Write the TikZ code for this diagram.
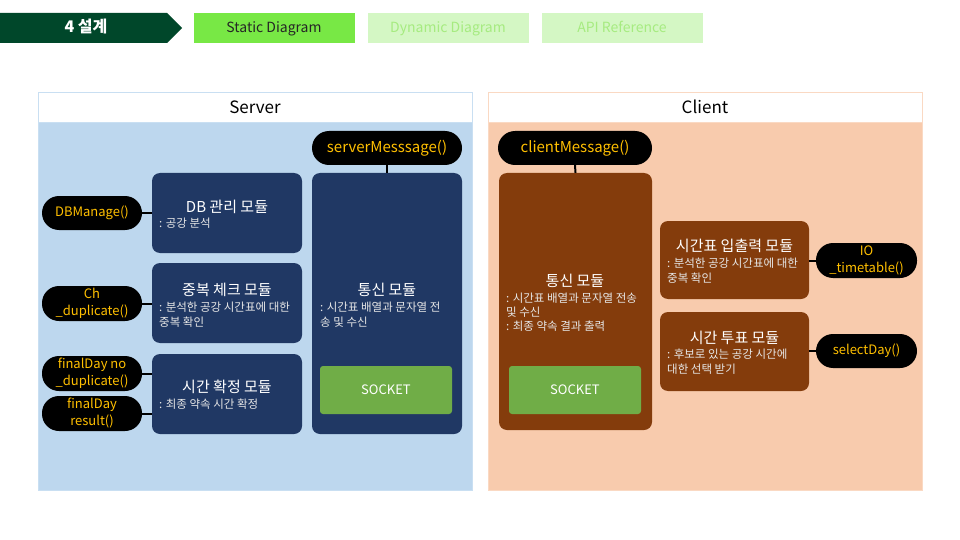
\documentclass[tikz,border=0pt]{standalone}
\usepackage{fontspec}
\setmainfont{Noto Sans CJK KR}
\definecolor{dkgreen}{HTML}{00472A}
\definecolor{brgreen}{HTML}{78E845}
\definecolor{ltgreen}{HTML}{D4F7C4}
\definecolor{ltgreentext}{HTML}{A6EB80}
\definecolor{sbodyc}{HTML}{BDD7EE}
\definecolor{sborderc}{HTML}{C9DFF2}
\definecolor{smodc}{HTML}{203864}
\definecolor{cbodyc}{HTML}{F8CBAD}
\definecolor{cborderc}{HTML}{FAD9C3}
\definecolor{cmodc}{HTML}{843C0C}
\definecolor{sockc}{HTML}{70AD47}
\definecolor{goldc}{HTML}{FFC000}
\definecolor{subc}{HTML}{E6E6E6}
\tikzset{
  tabbox/.style={rectangle, minimum width=161pt, minimum height=30pt, inner sep=0pt, text height=12pt, text depth=2pt, font=\fontsize{14}{16}\selectfont},
  panelhead/.style={rectangle, fill=white, minimum width=434pt, minimum height=30pt, inner sep=0pt, font=\fontsize{17}{19}\selectfont},
  panelbody/.style={rectangle, minimum width=434pt, minimum height=368pt, inner sep=0pt},
  modbox/.style={rectangle, rounded corners=8pt, inner sep=0pt},
  sockbox/.style={rectangle, rounded corners=3pt, fill=sockc, minimum width=132pt, minimum height=48pt, inner sep=0pt, text=white, font=\fontsize{13}{15}\selectfont},
  pill/.style={rectangle, rounded corners=17pt, fill=black, inner sep=0pt, text=goldc, align=center, font=\fontsize{14}{17}\selectfont},
  modtitle/.style={inner sep=0pt, text=white, font=\fontsize{15}{17}\selectfont},
  modsub/.style={inner sep=0pt, anchor=west, align=left, text=subc, font=\fontsize{11.5}{15}\selectfont},
  conn/.style={draw=black, line width=2pt},
}
\begin{document}
\begin{tikzpicture}[x=1pt,y=-1pt]
\useasboundingbox[fill=white] (0,0) rectangle (960,540);

% top tabs
\fill[dkgreen] (0,13) -- (167,13) -- (182,28) -- (167,43) -- (0,43) -- cycle;
\node[inner sep=0pt, text=white, text height=12pt, text depth=2pt, font=\fontsize{16}{18}\selectfont\bfseries] (tab0) at (86,28) {4 설계};
\node[tabbox, fill=brgreen, text=black!85] (tab1) at (274,28) {Static Diagram};
\node[tabbox, fill=ltgreen, text=ltgreentext] (tab2) at (448,28) {Dynamic Diagram};
\node[tabbox, fill=ltgreen, text=ltgreentext] (tab3) at (622,28) {API Reference};

% Server panel
\node[panelbody, fill=sbodyc, draw=sborderc] (sbody) at (255,306) {};
\node[panelhead, draw=sborderc] (shead) at (255,107) {Server};

\node[modbox, fill=smodc, minimum width=150pt, minimum height=261pt] (scomm) at (387,303.5) {};
\node[modtitle] (scommt) at (387,290) {통신 모듈};
\node[modsub] (scomms) at (320,314.5) {: 시간표 배열과 문자열 전\\송 및 수신};
\node[sockbox] (ssock) at (386,390) {SOCKET};

\node[modbox, fill=smodc, minimum width=150pt, minimum height=80pt] (sdb) at (227,213) {};
\node[modtitle] (sdbt) at (227,207) {DB 관리 모듈};
\node[modsub] (sdbs) at (159,223) {: 공강 분석};

\node[modbox, fill=smodc, minimum width=150pt, minimum height=80pt] (sdup) at (227,303) {};
\node[modtitle] (sdupt) at (227,290) {중복 체크 모듈};
\node[modsub] (sdups) at (159,314.5) {: 분석한 공강 시간표에 대한\\중복 확인};

\node[modbox, fill=smodc, minimum width=150pt, minimum height=80pt] (sfix) at (227,394) {};
\node[modtitle] (sfixt) at (227,387) {시간 확정 모듈};
\node[modsub] (sfixs) at (159,404) {: 최종 약속 시간 확정};

\node[pill, minimum width=150pt, minimum height=34pt, font=\fontsize{15}{17}\selectfont] (smsg) at (387,148) {serverMesssage()};
\node[pill, minimum width=100pt, minimum height=34pt, font=\fontsize{13}{17}\selectfont] (dbm) at (92,213) {DBManage()};
\node[pill, minimum width=100pt, minimum height=35pt, font=\fontsize{13}{17}\selectfont] (chd) at (92,303.5) {Ch\\\_duplicate()};
\node[pill, minimum width=100pt, minimum height=35pt, font=\fontsize{13}{17}\selectfont] (fdn) at (92,373.5) {finalDay no\\\_duplicate()};
\node[pill, minimum width=100pt, minimum height=35pt, font=\fontsize{13}{17}\selectfont] (fdr) at (92,413.5) {finalDay\\result()};

\draw[conn] (smsg.south) -- (scomm.north);
\draw[conn] (dbm.east) -- (sdb.west |- dbm.east);
\draw[conn] (chd.east) -- (sdup.west |- chd.east);
\draw[conn] (fdn.east) -- (sfix.west |- fdn.east);
\draw[conn] (fdr.east) -- (sfix.west |- fdr.east);

% Client panel
\node[panelbody, fill=cbodyc, draw=cborderc] (cbody) at (705,306) {};
\node[panelhead, draw=cborderc] (chead) at (705,107) {Client};

\node[modbox, fill=cmodc, minimum width=153pt, minimum height=257pt] (ccomm) at (575.5,301.5) {};
\node[modtitle] (ccommt) at (575,281) {통신 모듈};
\node[modsub, font=\fontsize{11.5}{14}\selectfont] (ccomms) at (506,312) {: 시간표 배열과 문자열 전송\\및 수신\\: 최종 약속 결과 출력};
\node[sockbox] (csock) at (575,390) {SOCKET};

\node[modbox, fill=cmodc, minimum width=149pt, minimum height=78pt] (ctt) at (734.5,260) {};
\node[modtitle] (cttt) at (734.5,246) {시간표 입출력 모듈};
\node[modsub] (ctts) at (667,270.5) {: 분석한 공강 시간표에 대한\\중복 확인};

\node[modbox, fill=cmodc, minimum width=149pt, minimum height=79pt] (cvote) at (734.5,351.5) {};
\node[modtitle] (cvotet) at (734.5,338) {시간 투표 모듈};
\node[modsub] (cvotes) at (667,362) {: 후보로 있는 공강 시간에\\대한 선택 받기};

\node[pill, minimum width=154pt, minimum height=34pt, font=\fontsize{15}{17}\selectfont] (cmsg) at (575,148) {clientMessage()};
\node[pill, minimum width=101pt, minimum height=35pt, font=\fontsize{13}{17}\selectfont] (iot) at (866.5,260.5) {IO\\\_timetable()};
\node[pill, minimum width=101pt, minimum height=34pt, font=\fontsize{13}{17}\selectfont] (seld) at (866.5,351) {selectDay()};

\draw[conn] (cmsg.south) -- (ccomm.north);
\draw[conn] (iot.west) -- (ctt.east |- iot.west);
\draw[conn] (seld.west) -- (cvote.east |- seld.west);
\end{tikzpicture}
\end{document}
